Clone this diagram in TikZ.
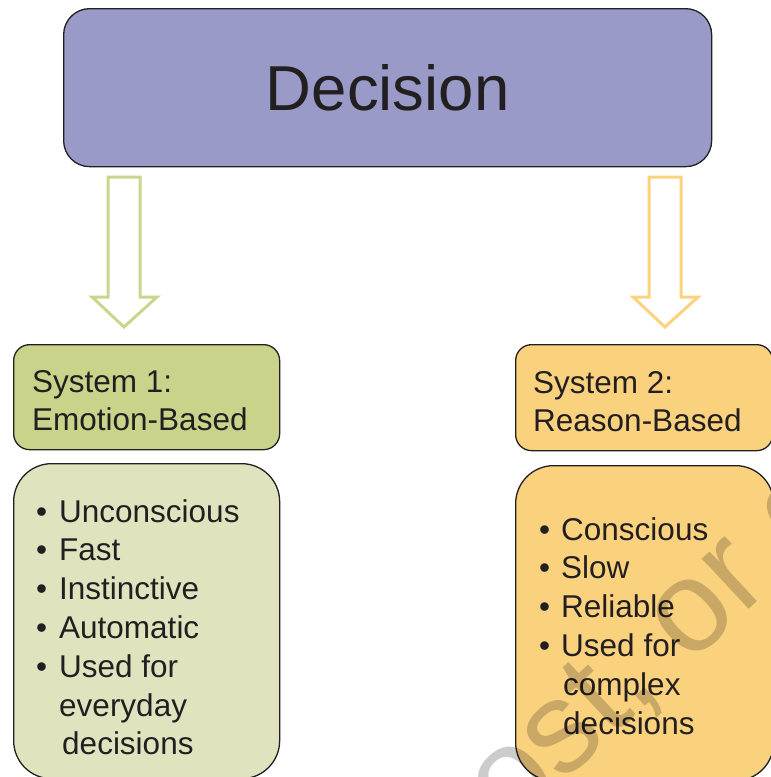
\documentclass[tikz,border=0pt]{standalone}
\usepackage{fontspec}
\setmainfont{Liberation Sans}
\usepackage{xcolor}
\usepackage{tikz}

\definecolor{decisionblue}{HTML}{9A9AC8}
\definecolor{sysgreen}{HTML}{C9D48A}
\definecolor{listgreen}{HTML}{E0E4BE}
\definecolor{sysorange}{HTML}{FAD27E}
\definecolor{arrowgreen}{HTML}{C8D78C}
\definecolor{arrowyellow}{HTML}{FBD37E}
\definecolor{inkdark}{HTML}{231F20}

\tikzset{
  box/.style={draw=inkdark, line width=1.3pt, anchor=north west, inner sep=0pt, text=inkdark},
  boxtext/.style={anchor=base west, inner sep=0pt, text=inkdark, font=\fontsize{31.5}{38.8}\selectfont},
  hollow/.style={line width=3pt, fill=white, line join=miter}
}

\begin{document}
\begin{tikzpicture}[x=1pt, y=-1pt]
            \useasboundingbox (0,0) rectangle (771,777);
            \clip (0,0) rectangle (771,777);

            \node[box, fill=decisionblue, rounded corners=26pt, minimum width=648pt, minimum height=158pt, font=\fontsize{63.5}{70}\selectfont] (decision) at (63,8) {Decision};

            \node[box, fill=sysgreen, rounded corners=16pt, minimum width=266pt, minimum height=105pt] (sys1) at (13,344) {};
            \node[box, fill=sysorange, rounded corners=16pt, minimum width=257pt, minimum height=106pt] (sys2) at (515,344) {};
            \node[box, fill=listgreen, rounded corners=38pt, minimum width=266pt, minimum height=315pt] (list1) at (13,463) {};
            \node[box, fill=sysorange, rounded corners=38pt, minimum width=258pt, minimum height=315pt] (list2) at (515,465) {};

            % hollow arrows
            \coordinate (arrow1) at (124,177);
            \coordinate (arrow2) at (665,177);
            \draw[hollow, draw=arrowgreen] ([xshift=-16pt]arrow1) -- ++(32,0) -- ++(0,120) -- ++(17,0) -- ++(-33,30) -- ++(-32,-30) -- ++(16,0) -- cycle;
            \draw[hollow, draw=arrowyellow] ([xshift=-16pt]arrow2) -- ++(32,0) -- ++(0,120) -- ++(17,0) -- ++(-33,30) -- ++(-32,-30) -- ++(16,0) -- cycle;

            \node[boxtext] (sys1text) at (32,392) {\begin{tabular}[t]{@{}l@{}}System 1:\\Emotion-Based\end{tabular}};
            \node[boxtext] (sys2text) at (533,393) {\begin{tabular}[t]{@{}l@{}}System 2:\\Reason-Based\end{tabular}};

            \node[boxtext] (list1text) at (36,522) {\begin{tabular}[t]{@{}l@{\hspace{12pt}}l@{}}
              • & Unconscious\\
              • & Fast\\
              • & Instinctive\\
              • & Automatic\\
              • & Used for\\
                & everyday\\
                & \hspace{3pt}decisions
            \end{tabular}};
            \node[boxtext] (list2text) at (539,540) {\begin{tabular}[t]{@{}l@{\hspace{11pt}}l@{}}
              • & Conscious\\
              • & Slow\\
              • & Reliable\\
              • & Used for\\
                & \hspace{2pt}complex\\
                & \hspace{2pt}decisions
            \end{tabular}};

            \node[rotate=43, anchor=base west, inner sep=0pt, opacity=0.2, font=\fontsize{130}{130}\selectfont] (watermark) at (457,882) {post, or distribute};
        \end{tikzpicture}
\end{document}
